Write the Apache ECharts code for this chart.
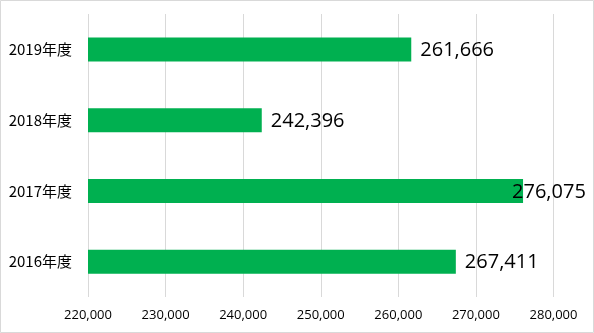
<!DOCTYPE html>
<html><head><meta charset="utf-8">
<script src="https://cdn.jsdelivr.net/npm/echarts@6/dist/echarts.min.js"></script>
<style>html,body{margin:0;padding:0;background:#fff}#c{width:594px;height:333px}</style>
</head><body><div id="c"></div>
<script>
const categories = ['2016年度', '2017年度', '2018年度', '2019年度'];
const values = [267411, 276075, 242396, 261666];
const xMin = 220000, xMax = 280000, xStep = 10000;
const labelShift = [0, -20, 0, 0];

const chart = echarts.init(document.getElementById('c'), null, {renderer: 'canvas'});
chart.setOption({
  animation: false,
  backgroundColor: '#fff',
  graphic: [{type: 'rect', shape: {x: 0.5, y: 0.5, width: 593, height: 332},
    style: {fill: 'none', stroke: '#d9d9d9', lineWidth: 1}, silent: true}],
  grid: {left: 88, right: 40.5, top: 14, bottom: 36},
  xAxis: {
    type: 'value', min: xMin, max: xMax, interval: xStep,
    axisLine: {show: false}, axisTick: {show: false},
    splitLine: {lineStyle: {color: '#d9d9d9', width: 1}},
    axisLabel: {color: '#000', fontSize: 13, fontFamily: 'Open Sans', margin: 12,
      formatter: v => v.toLocaleString('en-US')}
  },
  yAxis: {
    type: 'category', data: categories,
    axisLine: {show: false}, axisTick: {show: false},
    axisLabel: {color: '#000', fontSize: 15, fontFamily: 'Noto Sans CJK JP', margin: 16}
  },
  series: [{
    type: 'bar', barWidth: 24,
    itemStyle: {color: '#00B050'},
    data: values.map((v, i) => ({value: v, label: {offset: [labelShift[i], 1]}})),
    label: {show: true, position: 'right', distance: 9, color: '#000', fontSize: 20,
      fontFamily: 'Open Sans', formatter: p => p.value.toLocaleString('en-US')}
  }]
});
</script></body></html>
